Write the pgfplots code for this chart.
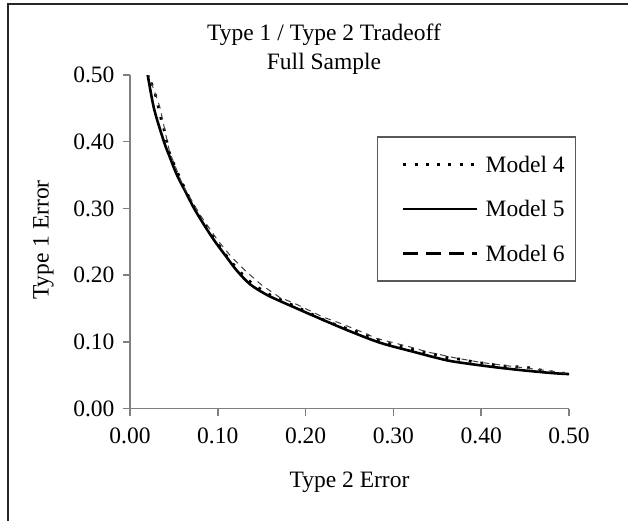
\documentclass[border=0pt]{standalone}
\usepackage{fontspec}
\setmainfont{Liberation Serif}
\usepackage{pgfplots}
\pgfplotsset{compat=1.18}
\newcommand{\cf}{\fontsize{23.5}{29}\selectfont}
\begin{document}
\begin{tikzpicture}[x=1pt,y=1pt,font=\cf]
\useasboundingbox (0,0) rectangle (628,520);
\draw[line width=2pt,black!85] (8,-5) -- (8,515.5) -- (635,515.5);
\begin{axis}[
  at={(130pt,111.5pt)}, anchor=south west,
  scale only axis, width=439pt, height=333.5pt,
  xmin=0, xmax=0.5, ymin=0, ymax=0.5,
  axis x line*=bottom, axis y line*=left,
  axis line style={draw=gray, line width=1.5pt},
  xtick={0,0.1,...,0.51}, ytick={0,0.1,...,0.51},
  tick align=outside, major tick length=7pt,
  tick style={draw=gray, line width=1.5pt},
  /pgf/number format/.cd, fixed, fixed zerofill, precision=2, assume math mode=true,
  /pgfplots/.cd,
  tick label style={font=\cf, black},
  xticklabel style={yshift=-9pt},
  yticklabel style={xshift=-5pt},
  title={Type 1 / Type 2 Tradeoff\\Full Sample},
  title style={at={(axis description cs:0.442,1.0585)}, anchor=center, align=center, font=\cf},
  xlabel={Type 2 Error},
  xlabel style={at={(axis description cs:0.5,-0.222)}, anchor=center, font=\cf},
  ylabel={Type 1 Error},
  ylabel style={at={(axis description cs:-0.197,0.505)}, anchor=center, font=\cf},
  legend style={at={(axis description cs:0.5626,0.817)}, anchor=north west,
    draw=black!65, line width=1.5pt, fill=white, font=\cf,
    inner xsep=11pt, inner ysep=19.5pt, row sep=28.5pt, column sep=7pt,
    nodes={inner sep=0pt, text height=16pt, text depth=0pt}},
  legend cell align=left,
  legend image code/.code={\path (0pt,0pt); \draw[#1] (13pt,0pt) -- (87pt,0pt);},
]
% Model 4 (dotted)
\addplot[forget plot, black, line width=2.8pt, dash pattern=on 2.8pt off 9pt] coordinates {
(0.02,0.505)(0.0296,0.4675)(0.036,0.431)(0.0387,0.419)(0.0448,0.3835)(0.052,0.36)
(0.0634,0.3266)(0.075,0.2966)(0.087,0.272)(0.1,0.247)(0.112,0.225)(0.125,0.205)
(0.14,0.186)(0.16,0.170)(0.18,0.158)(0.2,0.146)(0.225,0.13)(0.2517,0.1177)
(0.265,0.1127)(0.29,0.099)(0.3246,0.0877)(0.351,0.080)(0.365,0.075)(0.379,0.0737)
(0.393,0.069)(0.406,0.0677)(0.42,0.064)(0.436,0.063)(0.452,0.0617)(0.466,0.058)
(0.48,0.055)(0.505,0.051)};
% Model 5 (solid)
\addplot[forget plot, black, line width=2.6pt, smooth, tension=0.5] coordinates {
(0.0194,0.506)(0.0273,0.45)(0.0387,0.40)(0.045,0.378)(0.0535,0.35)
(0.063,0.3256)(0.073,0.30)(0.085,0.274)(0.097,0.25)(0.11,0.227)(0.1215,0.207)
(0.137,0.186)(0.155,0.171)(0.171,0.161)(0.19,0.150)(0.209,0.139)(0.247,0.1177)
(0.285,0.0985)(0.323,0.085)(0.349,0.076)(0.368,0.0705)(0.406,0.0635)(0.444,0.0577)
(0.482,0.0530)(0.505,0.0513)};
% Model 6 (dashed)
\addplot[forget plot, black!75, line width=1pt, dash pattern=on 6pt off 5pt] coordinates {
(0.02,0.505)(0.034,0.452)(0.045,0.385)(0.06,0.335)(0.08,0.29)(0.1,0.252)
(0.115,0.228)(0.131,0.207)(0.15,0.185)(0.17,0.167)(0.19,0.156)(0.22,0.137)
(0.239,0.128)(0.26,0.117)(0.281,0.105)(0.296,0.100)(0.32,0.092)(0.338,0.085)
(0.37,0.076)(0.4,0.069)(0.436,0.063)(0.474,0.057)(0.505,0.051)};
\addlegendimage{black, line width=3pt, dash pattern=on 3pt off 8.3pt}
\addlegendentry{Model 4}
\addlegendimage{black, line width=2pt}
\addlegendentry{Model 5}
\addlegendimage{black, line width=3pt, dash pattern=on 15pt off 8pt}
\addlegendentry{Model 6}
\end{axis}
\end{tikzpicture}
\end{document}
